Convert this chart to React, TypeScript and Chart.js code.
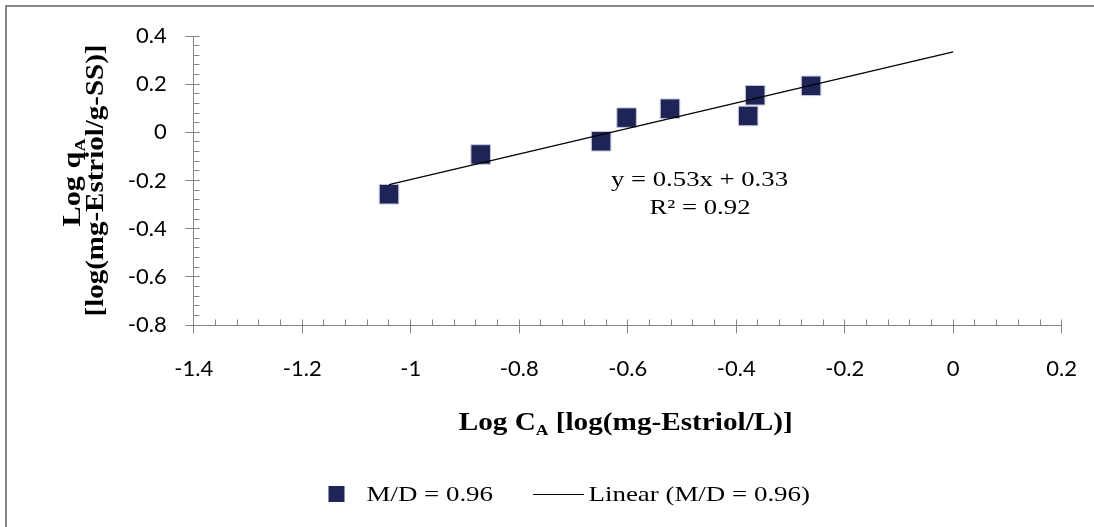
import React, { useEffect, useRef } from 'react';
import { Chart, registerables } from 'chart.js';

Chart.register(...registerables);

// ---- data ----
const xValues = [-1.04, -0.871, -0.649, -0.602, -0.522, -0.378, -0.365, -0.262];
const yValues = [-0.257, -0.092, -0.037, 0.061, 0.098, 0.068, 0.154, 0.193];
const seriesLabel = 'M/D = 0.96';
const trendLabel = 'Linear (M/D = 0.96)';
const trendXRange = [-1.04, 0];
const equationText = 'y = 0.53x + 0.33';
const r2Text = 'R\u00B2 = 0.92';
const xAxisRange = [-1.4, 0.2];
const yAxisRange = [-0.8, 0.4];
const majorStep = 0.2;
const minorStep = 0.04;

const MARKER = '#1f2456';
const AXIS = '#868686';
const PLOT = { left: 193.7, right: 1061.7, top: 36, bottom: 325 };

function linearFit(xs: number[], ys: number[]) {
  const n = xs.length;
  const mx = xs.reduce((a, b) => a + b, 0) / n;
  const my = ys.reduce((a, b) => a + b, 0) / n;
  let sxy = 0, sxx = 0;
  for (let i = 0; i < n; i++) {
    sxy += (xs[i] - mx) * (ys[i] - my);
    sxx += (xs[i] - mx) * (xs[i] - mx);
  }
  const slope = sxy / sxx;
  return { slope, intercept: my - slope * mx };
}

type Part = { t: string; sub?: boolean };

function drawRun(
  ctx: CanvasRenderingContext2D,
  parts: Part[],
  size: number,
  bold: boolean,
  align: 'left' | 'center',
  targetWidth: number
) {
  const fam = '"Liberation Serif", "Times New Roman", serif';
  const mainFont = `${bold ? 'bold ' : ''}${size}px ${fam}`;
  const subFont = `${bold ? 'bold ' : ''}${Math.round(size * 0.6)}px ${fam}`;
  let W = 0;
  const widths: number[] = [];
  for (const p of parts) {
    ctx.font = p.sub ? subFont : mainFont;
    const w = ctx.measureText(p.t).width;
    widths.push(w);
    W += w;
  }
  const sx = targetWidth / W;
  ctx.save();
  ctx.scale(sx, 1);
  let cx = align === 'center' ? -W / 2 : 0;
  ctx.textBaseline = 'alphabetic';
  ctx.textAlign = 'left';
  parts.forEach((p, i) => {
    ctx.font = p.sub ? subFont : mainFont;
    ctx.fillText(p.t, cx, p.sub ? size * 0.2 : 0);
    cx += widths[i];
  });
  ctx.restore();
}

const areaPlugin = {
  id: 'fixedArea',
  afterLayout(chart: any) {
    const { left, right, top, bottom } = PLOT;
    const ca = chart.chartArea;
    ca.left = left;
    ca.right = right;
    ca.top = top;
    ca.bottom = bottom;
    ca.width = right - left;
    ca.height = bottom - top;
    const xs = chart.scales.x;
    xs.left = left;
    xs.right = right;
    xs.width = right - left;
    xs.top = bottom;
    xs.bottom = chart.height;
    xs.height = chart.height - bottom;
    xs.configure();
    const ys = chart.scales.y;
    ys.left = 0;
    ys.right = left;
    ys.width = left;
    ys.top = top;
    ys.bottom = bottom;
    ys.height = bottom - top;
    ys.configure();
  },
};

const decorPlugin = {
  id: 'decor',
  afterDraw(chart: any) {
    const ctx: CanvasRenderingContext2D = chart.ctx;
    const xs = chart.scales.x;
    const ys = chart.scales.y;
    const area = chart.chartArea;
    ctx.save();

    // outer frame (left + top visible)
    ctx.strokeStyle = AXIS;
    ctx.lineWidth = 2;
    ctx.beginPath();
    ctx.moveTo(6, chart.height + 5);
    ctx.lineTo(6, 6);
    ctx.lineTo(chart.width + 5, 6);
    ctx.stroke();

    // ticks
    ctx.lineWidth = 1;
    ctx.strokeStyle = AXIS;
    ctx.beginPath();
    const axX = Math.floor(area.left) + 0.5;
    const axY = Math.floor(area.bottom) + 0.5;
    const nY = Math.round((yAxisRange[1] - yAxisRange[0]) / minorStep);
    const per = Math.round(majorStep / minorStep);
    for (let i = 0; i <= nY; i++) {
      const v = yAxisRange[0] + i * minorStep;
      const py = Math.floor(ys.getPixelForValue(v)) + 0.5;
      const major = i % per === 0;
      ctx.moveTo(major ? axX - 8 : axX, py);
      ctx.lineTo(axX + 6, py);
    }
    const nX = Math.round((xAxisRange[1] - xAxisRange[0]) / minorStep);
    for (let i = 0; i <= nX; i++) {
      const v = xAxisRange[0] + i * minorStep;
      const px = Math.floor(xs.getPixelForValue(v)) + 0.5;
      const major = i % per === 0;
      ctx.moveTo(px, axY - 6);
      ctx.lineTo(px, major ? axY + 8 : axY);
    }
    ctx.stroke();

    ctx.fillStyle = '#000';
    // x title
    ctx.save();
    ctx.translate((area.left + area.right) / 2 - 2, 430);
    drawRun(ctx, [{ t: 'Log C' }, { t: 'A', sub: true }, { t: ' [log(mg-Estriol/L)]' }], 25, true, 'center', 334);
    ctx.restore();

    // y title (two lines, rotated)
    const cy = (area.top + area.bottom) / 2;
    ctx.save();
    ctx.translate(80, cy + 2);
    ctx.rotate(-Math.PI / 2);
    drawRun(ctx, [{ t: 'Log q' }, { t: 'A', sub: true }], 25, true, 'center', 88);
    ctx.restore();
    ctx.save();
    ctx.translate(103, cy);
    ctx.rotate(-Math.PI / 2);
    drawRun(ctx, [{ t: '[log(mg-Estriol/g-SS)]' }], 25, true, 'center', 272);
    ctx.restore();

    // equation
    ctx.save();
    ctx.translate(699.5, 185.5);
    drawRun(ctx, [{ t: equationText }], 22, false, 'center', 177);
    ctx.restore();
    ctx.save();
    ctx.translate(700, 214);
    drawRun(ctx, [{ t: r2Text }], 22, false, 'center', 101);
    ctx.restore();

    // legend
    ctx.fillStyle = MARKER;
    ctx.fillRect(328.5, 486, 16, 16);
    ctx.fillStyle = '#000';
    ctx.save();
    ctx.translate(366.5, 501);
    drawRun(ctx, [{ t: seriesLabel }], 21, false, 'left', 126.5);
    ctx.restore();
    ctx.strokeStyle = '#000';
    ctx.lineWidth = 1;
    ctx.beginPath();
    ctx.moveTo(533, 494.5);
    ctx.lineTo(584, 494.5);
    ctx.stroke();
    ctx.save();
    ctx.translate(588.5, 501);
    drawRun(ctx, [{ t: trendLabel }], 21, false, 'left', 221.5);
    ctx.restore();

    ctx.restore();
  },
};

export default function App() {
  const ref = useRef<HTMLCanvasElement | null>(null);

  useEffect(() => {
    if (!ref.current) return;
    const fit = linearFit(xValues, yValues);
    const trendPoints = trendXRange.map((x) => ({ x, y: fit.slope * x + fit.intercept }));
    const points = xValues.map((x, i) => ({ x, y: yValues[i] }));
    const tickFont = { family: 'Lato, "Open Sans", sans-serif', size: 22 };
    const fmt = (v: any) => String(Number(Number(v).toFixed(2)));

    const chart = new Chart(ref.current, {
      type: 'scatter',
      data: {
        datasets: [
          {
            type: 'line',
            label: trendLabel,
            data: trendPoints,
            borderColor: '#000',
            borderWidth: 1.2,
            pointRadius: 0,
            fill: false,
            order: 0,
          } as any,
          {
            label: seriesLabel,
            data: points,
            pointStyle: 'rect',
            pointRadius: 13.8,
            backgroundColor: MARKER,
            borderColor: '#c3c6da',
            borderWidth: 1,
            order: 1,
          },
        ],
      },
      options: {
        animation: false,
        responsive: false,
        devicePixelRatio: 1,
        events: [],
        layout: { padding: { top: 36, right: 32, bottom: 0, left: 0 } },
        plugins: {
          legend: { display: false },
          tooltip: { enabled: false },
          title: { display: false },
        },
        scales: {
          x: {
            type: 'linear',
            min: xAxisRange[0],
            max: xAxisRange[1],
            ticks: { stepSize: majorStep, font: tickFont, color: '#000', padding: 31, callback: fmt },
            grid: { display: false, drawTicks: false },
            border: { display: true, color: AXIS, width: 1 },
          },
          y: {
            type: 'linear',
            min: yAxisRange[0],
            max: yAxisRange[1],
            ticks: { stepSize: majorStep, font: tickFont, color: '#000', padding: 27, callback: fmt },
            grid: { display: false, drawTicks: false },
            border: { display: true, color: AXIS, width: 1 },
          },
        },
      },
      plugins: [areaPlugin, decorPlugin],
    });
    return () => chart.destroy();
  }, []);

  return (
    <div
      style={{
        position: 'fixed',
        left: 0,
        top: 0,
        width: 1094,
        height: 527,
        overflow: 'hidden',
        background: '#fff',
      }}
    >
      <canvas ref={ref} width={1094} height={527} style={{ display: 'block' }} />
    </div>
  );
}
